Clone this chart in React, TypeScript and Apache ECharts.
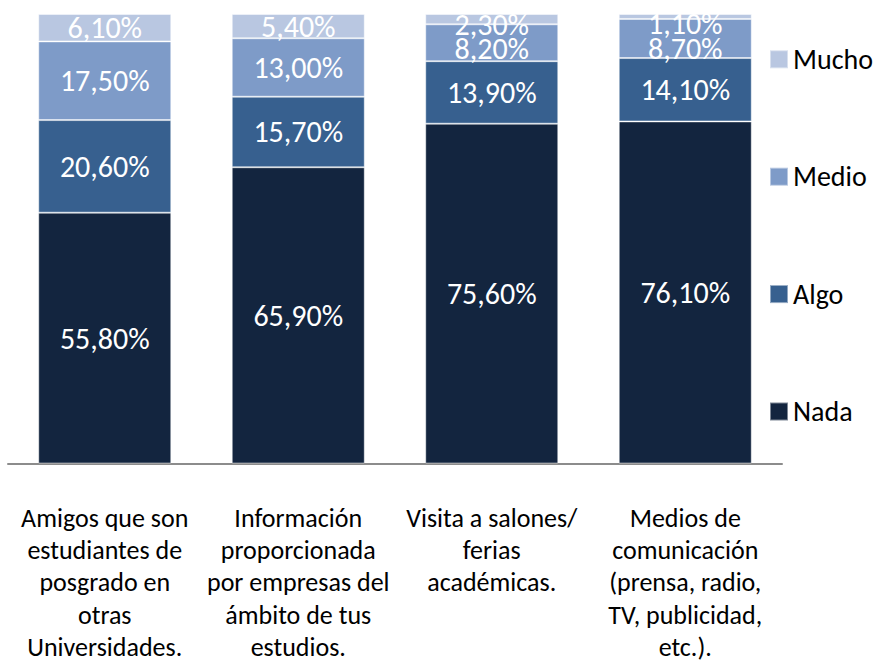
import React, { useEffect, useRef } from "react";
import * as echarts from "echarts";

const categories = [
  "Amigos que son\nestudiantes de\nposgrado en\notras\nUniversidades.",
  "Información\nproporcionada\npor empresas del\námbito de tus\nestudios.",
  "Visita a salones/\nferias\nacadémicas.",
  "Medios de\ncomunicación\n(prensa, radio,\nTV, publicidad,\netc.).",
];
const seriesNames = ["Nada", "Algo", "Medio", "Mucho"];
const nada = [55.8, 65.9, 75.6, 76.1];
const algo = [20.6, 15.7, 13.9, 14.1];
const medio = [17.5, 13.0, 8.2, 8.7];
const mucho = [6.1, 5.4, 2.3, 1.1];
const colors = ["#13253F", "#37608F", "#7E9BC8", "#B9C7E1"];

// vertical label nudges (px) per series / category, to mirror the reference's label placement
const labelNudges = [
  [0, 0, 0, 0],
  [0, 0, 0, 0],
  [0, 0, 6, 10],
  [0, 0, 5, 7],
];

const FONT = "Carlito, Lato, sans-serif";

export default function App() {
  const ref = useRef<HTMLDivElement>(null);
  useEffect(() => {
    if (!ref.current) return;
    const chart = echarts.init(ref.current, undefined, { renderer: "svg" });
    const values = [nada, algo, medio, mucho];
    chart.setOption({
      animation: false,
      textStyle: { fontFamily: FONT },
      grid: { left: 8, right: 98, top: 14, bottom: 192 },
      legend: {
        orient: "vertical",
        left: 769,
        top: 45.3,
        padding: 0,
        itemWidth: 18,
        itemHeight: 18,
        itemGap: 89.4,
        icon: "rect",
        data: ["Mucho", "Medio", "Algo", "Nada"],
        textStyle: { fontSize: 28, color: "#000", fontFamily: FONT },
      },
      xAxis: {
        type: "category",
        data: categories,
        axisLine: { lineStyle: { color: "#8C8C8C", width: 2 } },
        axisTick: { show: false },
        axisLabel: {
          interval: 0,
          margin: 38,
          fontSize: 26,
          lineHeight: 32.3,
          color: "#000",
          fontFamily: FONT,
          align: "center",
        },
      },
      yAxis: {
        type: "value",
        min: 0,
        max: 100,
        show: false,
        splitLine: { show: false },
      },
      series: seriesNames.map((name, i) => ({
        name,
        type: "bar",
        stack: "total",
        barWidth: 133,
        data: values[i],
        itemStyle: {
          color: colors[i],
          borderColor: "rgba(255,255,255,0.45)",
          borderWidth: 1,
        },
        label: {
          show: true,
          position: "inside",
          color: "#fff",
          fontSize: 30,
          fontFamily: FONT,
          formatter: (p: any) => Number(p.value).toFixed(2).replace(".", ",") + "%",
        },
        labelLayout: (p: any) => ({ dy: labelNudges[i][p.dataIndex] || 0 }),
      })),
    });
    return () => chart.dispose();
  }, []);
  return <div ref={ref} style={{ width: 880, height: 663, position: "absolute", left: 0, top: 0 }} />;
}
